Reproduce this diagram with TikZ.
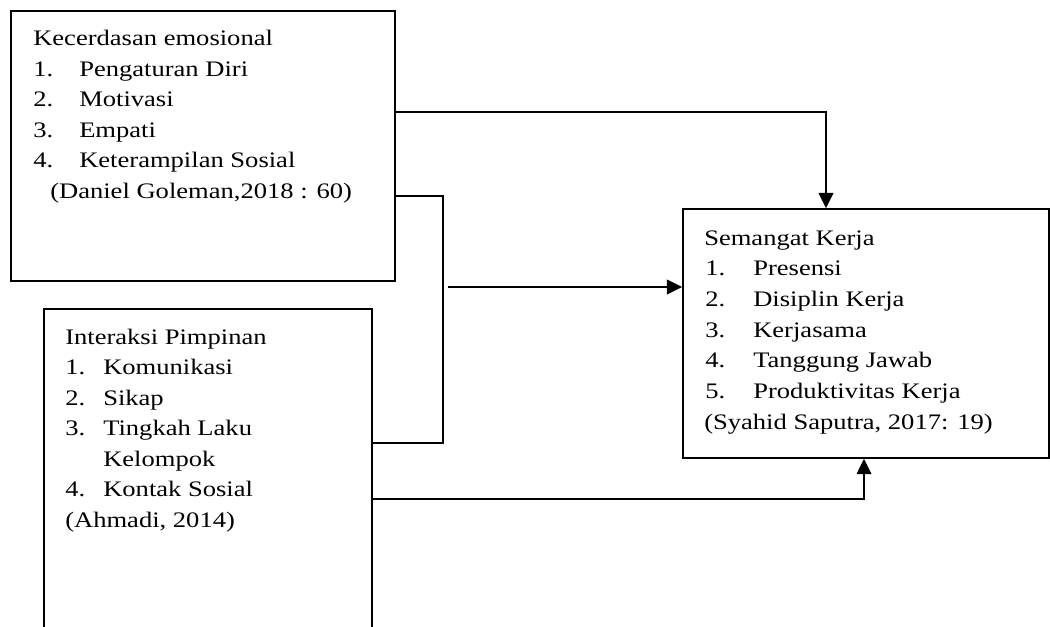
\documentclass[tikz,border=0pt]{standalone}
\usepackage{fontspec}
\setmainfont[FakeStretch=1.2]{Liberation Serif}
\usetikzlibrary{fit,arrows.meta}
\tikzset{
  box/.style={draw, line width=1.2pt, inner sep=0pt},
  conn/.style={line width=1.3pt},
  arr/.style={line width=1.3pt, -{Triangle[length=11.5pt,width=11pt]}},
  txt/.style={anchor=base west, inner sep=0pt, font=\fontsize{16.6}{20}\selectfont}
}
\begin{document}
\begin{tikzpicture}[x=0.75pt,y=-0.75pt]
\useasboundingbox (0,0) rectangle (1050,626);
\clip (0,0) rectangle (1050,626);
% boxes
\node[box, fit={(11,11) (395,281)}] (ke) {};
\node[box, fit={(44,309) (372,670)}] (ip) {};
\node[box, fit={(683,209) (1049,458)}] (sk) {};
% box 1 text
\node[txt] (ke0) at (33,45) {Kecerdasan emosional};
\node[txt] (ke1n) at (33,76) {1.};
\node[txt] (ke1) at (79,76) {Pengaturan Diri};
\node[txt] (ke2n) at (33,106.5) {2.};
\node[txt] (ke2) at (79,106.5) {Motivasi};
\node[txt] (ke3n) at (33,137) {3.};
\node[txt] (ke3) at (79,137) {Empati};
\node[txt] (ke4n) at (33,167.5) {4.};
\node[txt] (ke4) at (79,167.5) {Keterampilan Sosial};
\node[txt] (ke5) at (50,198) {(Daniel Goleman,2018 : 60)};
% box 2 text
\node[txt] (ip0) at (65,344) {Interaksi Pimpinan};
\node[txt] (ip1n) at (65,374.5) {1.};
\node[txt] (ip1) at (103,374.5) {Komunikasi};
\node[txt] (ip2n) at (65,405) {2.};
\node[txt] (ip2) at (103,405) {Sikap};
\node[txt] (ip3n) at (65,435.5) {3.};
\node[txt] (ip3) at (103,435.5) {Tingkah Laku};
\node[txt] (ip3b) at (103,466) {Kelompok};
\node[txt] (ip4n) at (65,496.5) {4.};
\node[txt] (ip4) at (103,496.5) {Kontak Sosial};
\node[txt] (ip5) at (65,527) {(Ahmadi, 2014)};
% box 3 text
\node[txt] (sk0) at (704,245) {Semangat Kerja};
\node[txt] (sk1n) at (705,275.7) {1.};
\node[txt] (sk1) at (753,275.7) {Presensi};
\node[txt] (sk2n) at (705,306.4) {2.};
\node[txt] (sk2) at (753,306.4) {Disiplin Kerja};
\node[txt] (sk3n) at (705,337.1) {3.};
\node[txt] (sk3) at (753,337.1) {Kerjasama};
\node[txt] (sk4n) at (705,367.8) {4.};
\node[txt] (sk4) at (753,367.8) {Tanggung Jawab};
\node[txt] (sk5n) at (705,398.5) {5.};
\node[txt] (sk5) at (753,398.5) {Produktivitas Kerja};
\node[txt] (sk6) at (704,429.2) {(Syahid Saputra, 2017: 19)};
% helper coordinates
\coordinate (top) at (826,112);
\coordinate (jn) at (443,196);
\coordinate (jb) at (443,443);
\coordinate (mid) at (448,287);
\coordinate (bot) at (864,499);
% connectors
\draw[arr] (ke.east |- top) -| (sk.north -| top);
\draw[conn] (ke.east |- jn) -- (jn) -- (jb) -- (ip.east |- jb);
\draw[arr] (mid) -- (sk.west |- mid);
\draw[arr] (ip.east |- bot) -| (sk.south -| bot);
\end{tikzpicture}
\end{document}
